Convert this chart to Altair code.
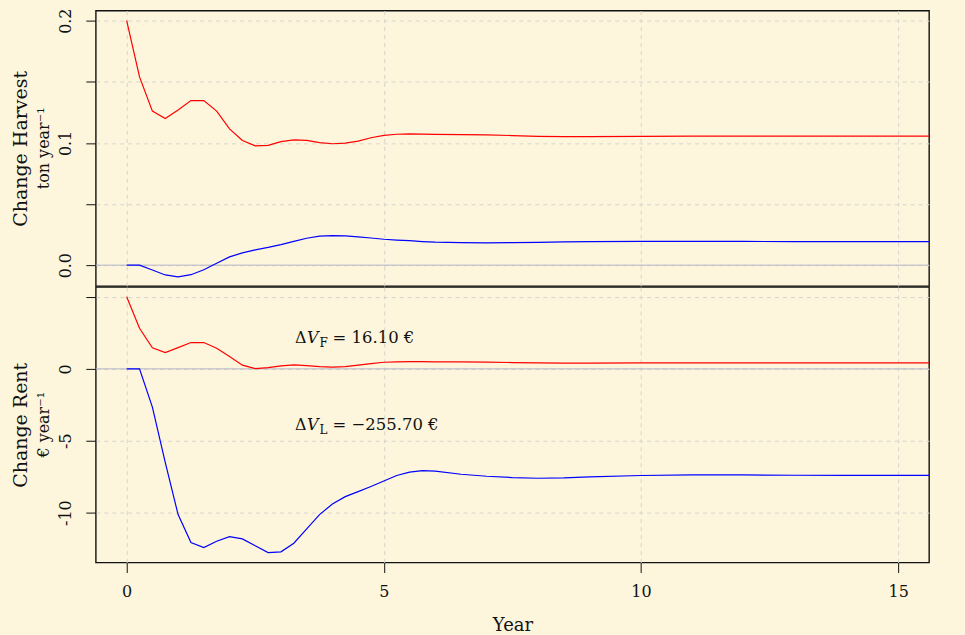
import altair as alt
import pandas as pd

# ---------------- data ----------------
years = [0, 0.25, 0.5, 0.75, 1, 1.25, 1.5, 1.75, 2, 2.25, 2.5, 2.75, 3, 3.25, 3.5,
         3.75, 4, 4.25, 4.5, 4.75, 5, 5.25, 5.5, 5.75, 6, 6.5, 7, 7.5, 8, 8.5, 9,
         10, 11, 12, 13, 14, 15, 15.6]

harvest_F = [0.200, 0.154, 0.126, 0.120, 0.127, 0.1346, 0.1346, 0.126, 0.1115, 0.102,
             0.0976, 0.098, 0.1010, 0.1025, 0.1020, 0.1003, 0.0993, 0.0998, 0.1015, 0.1042,
             0.1062, 0.1071, 0.1074, 0.1072, 0.1070, 0.1068, 0.1066, 0.1060, 0.1054, 0.1052,
             0.1052, 0.1053, 0.1055, 0.1055, 0.1055, 0.1055, 0.1055, 0.1055]
harvest_L = [0, 0, -0.0040, -0.0080, -0.0095, -0.0078, -0.0038, 0.0015, 0.0068, 0.0100,
             0.0125, 0.0145, 0.0168, 0.0195, 0.0220, 0.0237, 0.0242, 0.0240, 0.0232, 0.0222,
             0.0212, 0.0205, 0.0200, 0.0193, 0.0188, 0.0184, 0.0182, 0.0184, 0.0187, 0.0190,
             0.0193, 0.0195, 0.0195, 0.0194, 0.0193, 0.0192, 0.0192, 0.0192]
rent_F = [5.02, 2.82, 1.46, 1.13, 1.48, 1.83, 1.83, 1.44, 0.86, 0.26,
          0.02, 0.09, 0.21, 0.28, 0.23, 0.16, 0.12, 0.16, 0.26, 0.37,
          0.46, 0.49, 0.50, 0.50, 0.49, 0.48, 0.47, 0.44, 0.41, 0.40,
          0.40, 0.41, 0.42, 0.42, 0.42, 0.42, 0.42, 0.42]
rent_L = [0, 0, -2.66, -6.5, -10.14, -12.08, -12.43, -11.99, -11.67, -11.83,
          -12.31, -12.78, -12.73, -12.13, -11.13, -10.14, -9.40, -8.89, -8.54, -8.18,
          -7.80, -7.42, -7.18, -7.08, -7.12, -7.33, -7.47, -7.56, -7.61, -7.59,
          -7.52, -7.42, -7.38, -7.38, -7.40, -7.41, -7.41, -7.41]

series = ["F", "L"]
series_colors = ["#ff0000", "#0000ff"]

harvest_ticks = [0, 0.05, 0.1, 0.15, 0.2]
rent_ticks = [-10, -5, 0, 5]
year_ticks = [0, 5, 10, 15]

ann_x = [3.73, 3.73]
ann_y = [1.81, -4.24]
ann_sub = ["F", "L"]
ann_rhs = ["= 16.10 €", "= −255.70 €"]

# ---------------- styling ----------------
BG = "#fdf6dc"
FONT = "DejaVu Serif"
INK = "#111111"
ZERO = "#b4b4c6"
W, H = 835, 276

n = len(years)
harvest_df = pd.DataFrame({"Year": years * 2, "value": harvest_F + harvest_L,
                           "series": ["F"] * n + ["L"] * n})
rent_df = pd.DataFrame({"Year": years * 2, "value": rent_F + rent_L,
                        "series": ["F"] * n + ["L"] * n})
ann_df = pd.DataFrame({"x": ann_x, "y": ann_y, "sub": ann_sub, "rhs": ann_rhs})
one = pd.DataFrame({"a": [0]})

x_scale = alt.Scale(domain=[-0.6, 15.6], nice=False, zero=False)
harvest_scale = alt.Scale(domain=[-0.0171, 0.2082], nice=False, zero=False)
rent_scale = alt.Scale(domain=[-13.47, 5.69], nice=False, zero=False)
color = alt.Color("series:N", scale=alt.Scale(domain=series, range=series_colors), legend=None)


def y_axis(values, label_expr, title):
    return alt.Axis(values=values, labelExpr=label_expr, title=title, grid=True, domain=False,
                    tickSize=10, labelAngle=270, labelAlign="center", labelBaseline="alphabetic",
                    labelPadding=15, labelOverlap=False, labelFontSize=16,
                    titleX=-75, titleY=H / 2, titleAngle=270, titleAlign="center",
                    titleBaseline="middle", titleFontSize=19)


top_x_axis = alt.Axis(values=year_ticks, labels=False, ticks=False, domain=False,
                      title=None, grid=True)
bot_x_axis = alt.Axis(values=year_ticks, title="Year", grid=True, domain=False,
                      tickSize=10, labelPadding=11, labelFontSize=16, labelFlush=False,
                      titleFontSize=18, titleY=63, titleBaseline="middle")
top_y_axis = y_axis(harvest_ticks,
                    "round(datum.value * 100) % 10 == 5 ? '' : format(datum.value, '.1f')",
                    "Change Harvest")
bot_y_axis = y_axis(rent_ticks, "datum.value == 5 ? '' : '' + datum.value", "Change Rent")


def unit_text(txt):
    return alt.Chart(one).mark_text(text=txt, angle=270, align="center", baseline="middle",
                                    font=FONT, fontSize=16, color=INK).encode(
        x=alt.value(-52), y=alt.value(H / 2))


# ---------------- top panel ----------------
top_lines = alt.Chart(harvest_df).mark_line(strokeWidth=1.2).encode(
    x=alt.X("Year:Q", scale=x_scale, axis=top_x_axis),
    y=alt.Y("value:Q", scale=harvest_scale, axis=top_y_axis),
    color=color)
top_zero = alt.Chart(one).mark_rule(color=ZERO, strokeWidth=1).encode(
    y=alt.YDatum(0, scale=harvest_scale, axis=top_y_axis))
top_marker = alt.Chart(one).mark_rule(color=BG, strokeWidth=1).encode(
    x=alt.value(-94.5), x2=alt.value(-94.2), y=alt.value(-8.5), y2=alt.value(-8.2))
top = alt.layer(top_zero, top_lines, unit_text("ton year⁻¹"), top_marker).properties(
    width=W, height=H)

# ---------------- bottom panel ----------------
bot_lines = alt.Chart(rent_df).mark_line(strokeWidth=1.2).encode(
    x=alt.X("Year:Q", scale=x_scale, axis=bot_x_axis),
    y=alt.Y("value:Q", scale=rent_scale, axis=bot_y_axis),
    color=color)
bot_zero = alt.Chart(one).mark_rule(color=ZERO, strokeWidth=1).encode(
    y=alt.YDatum(0, scale=rent_scale, axis=bot_y_axis))

ann_base = alt.Chart(ann_df).encode(
    x=alt.X("x:Q", scale=x_scale, axis=bot_x_axis),
    y=alt.Y("y:Q", scale=rent_scale, axis=bot_y_axis))
txt = dict(font=FONT, color=INK, baseline="alphabetic")
ann_delta = ann_base.mark_text(text="Δ", align="right", dx=-12, fontSize=16, **txt)
ann_v = ann_base.mark_text(text="V", align="right", fontStyle="italic", fontSize=16, **txt)
ann_s = ann_base.mark_text(align="left", dx=1, dy=4, fontSize=12, **txt).encode(text="sub:N")
ann_r = ann_base.mark_text(align="left", dx=14, fontSize=16.5, **txt).encode(text="rhs:N")

bot_marker = alt.Chart(one).mark_rule(color=BG, strokeWidth=1).encode(
    x=alt.value(869.5), x2=alt.value(869.8), y=alt.value(348.5), y2=alt.value(348.8))

bottom = alt.layer(bot_zero, bot_lines, ann_delta, ann_v, ann_s, ann_r,
                   unit_text("€ year⁻¹"), bot_marker).properties(width=W, height=H)

chart = alt.vconcat(top, bottom, spacing=-2).properties(padding=0, background=BG).configure_view(
    stroke=INK, strokeWidth=1.4
).configure_axis(
    labelFont=FONT, titleFont=FONT, labelColor=INK, titleColor=INK, titleFontWeight="normal",
    tickColor=INK, tickWidth=1, gridColor="#d6d4cc", gridDash=[4, 4], gridWidth=1
)

chart.save("out.html", embed_options={"renderer": "svg", "actions": False})
